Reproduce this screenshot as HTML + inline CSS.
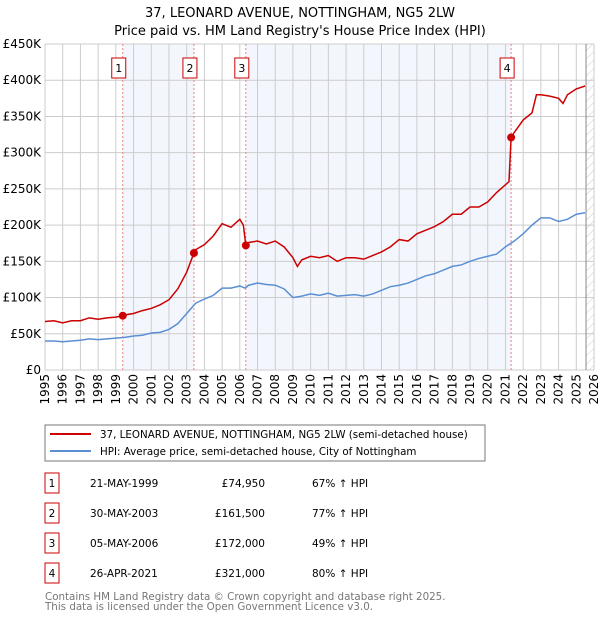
<!DOCTYPE html>
<html><head><meta charset="utf-8"><style>
body{margin:0;background:#fff;font-family:"DejaVu Sans","Liberation Sans",sans-serif;}
svg text{font-family:"DejaVu Sans","Liberation Sans",sans-serif;}
</style></head><body>
<svg id="c" width="600" height="620" xmlns="http://www.w3.org/2000/svg">
<defs><pattern id="hatch" width="6" height="6" patternUnits="userSpaceOnUse" patternTransform="rotate(45)"><line x1="0" y1="0" x2="0" y2="6" stroke="#ccc" stroke-width="1"/></pattern></defs>
<text x="300" y="17" text-anchor="middle" font-size="13">37, LEONARD AVENUE, NOTTINGHAM, NG5 2LW</text>
<text x="300" y="35" text-anchor="middle" font-size="13">Price paid vs. HM Land Registry's House Price Index (HPI)</text>
<g id="plot"></g>
<rect x="45" y="425" width="440" height="36" fill="#fff" stroke="#777"/>
<line x1="50" y1="434" x2="91" y2="434" stroke="#cc0000" stroke-width="2"/>
<text x="100" y="438" font-size="10.3">37, LEONARD AVENUE, NOTTINGHAM, NG5 2LW (semi-detached house)</text>
<line x1="50" y1="451" x2="91" y2="451" stroke="#5b8fd4" stroke-width="2"/>
<text x="100" y="455" font-size="10.3">HPI: Average price, semi-detached house, City of Nottingham</text>
<g id="table" font-size="10.5"></g>
<text x="45" y="600" font-size="10.3" fill="#777">Contains HM Land Registry data © Crown copyright and database right 2025.</text>
<text x="45" y="610" font-size="10.3" fill="#777">This data is licensed under the Open Government Licence v3.0.</text>
</svg>
<script>
const hpiX=[1995,1995.5,1996,1996.5,1997,1997.5,1998,1998.5,1999,1999.5,2000,2000.5,2001,2001.5,2002,2002.5,2003,2003.5,2004,2004.5,2005,2005.5,2006,2006.3,2006.5,2007,2007.5,2008,2008.5,2009,2009.5,2010,2010.5,2011,2011.5,2012,2012.5,2013,2013.5,2014,2014.5,2015,2015.5,2016,2016.5,2017,2017.5,2018,2018.5,2019,2019.5,2020,2020.5,2021,2021.5,2022,2022.5,2023,2023.5,2024,2024.5,2025,2025.5];
const hpiY=[40,40,39,40,41,43,42,43,44,45,47,48,51,52,56,64,78,92,98,103,113,113,116,113,117,120,118,117,112,100,102,105,103,106,102,103,104,102,105,110,115,117,120,125,130,133,138,143,145,150,154,157,160,170,178,188,200,210,210,205,208,215,217];
const priceX=[1995,1995.5,1996,1996.5,1997,1997.5,1998,1998.5,1999,1999.39,1999.5,2000,2000.5,2001,2001.5,2002,2002.5,2003,2003.41,2003.5,2004,2004.5,2005,2005.5,2006,2006.2,2006.34,2006.5,2007,2007.5,2008,2008.5,2009,2009.25,2009.5,2010,2010.5,2011,2011.5,2012,2012.5,2013,2013.5,2014,2014.5,2015,2015.5,2016,2016.5,2017,2017.5,2018,2018.5,2019,2019.5,2020,2020.5,2021.2,2021.32,2021.5,2022,2022.5,2022.75,2023,2023.5,2024,2024.25,2024.5,2025,2025.5];
const priceY=[67,68,65,68,68,72,70,72,73,74.95,76,78,82,85,90,97,112,135,161.5,166,173,185,202,197,208,200,172,176,178,174,178,170,155,143,152,157,155,158,150,155,155,153,158,163,170,180,178,188,193,198,205,215,215,225,225,232,245,260,321,328,345,355,380,380,378,375,368,380,388,392];
const saleX=[1999.39,2003.41,2006.34,2021.32];
const saleY=[74.95,161.5,172,321];
const saleLabels=["1","2","3","4"];
const saleDates=["21-MAY-1999","30-MAY-2003","05-MAY-2006","26-APR-2021"];
const salePrices=["£74,950","£161,500","£172,000","£321,000"];
const saleHpi=["67% ↑ HPI","77% ↑ HPI","49% ↑ HPI","80% ↑ HPI"];
const yTicks=[0,50,100,150,200,250,300,350,400,450];
const yTickLabels=["£0","£50K","£100K","£150K","£200K","£250K","£300K","£350K","£400K","£450K"];
const xTicks=[1995,1996,1997,1998,1999,2000,2001,2002,2003,2004,2005,2006,2007,2008,2009,2010,2011,2012,2013,2014,2015,2016,2017,2018,2019,2020,2021,2022,2023,2024,2025,2026];

const L=45,R=594,T=44,B=370,NS="http://www.w3.org/2000/svg";
const sx=v=>L+(v-1995)/(2026-1995)*(R-L);
const sy=v=>B-v/450*(B-T);
const g=document.getElementById('plot');
function mk(tag,at,parent){const e=document.createElementNS(NS,tag);for(const k in at)e.setAttribute(k,at[k]);(parent||g).appendChild(e);return e;}
for(let i=0;i<saleX.length;i+=2){const x1=sx(saleX[i]),x2=i+1<saleX.length?sx(saleX[i+1]):R;
 const r=mk('rect',{x:x1,y:T,width:x2-x1,height:B-T,fill:'#eef3fc',opacity:0.7});
 
 }
const hz=mk('rect',{x:sx(2025.55),y:T,width:R-sx(2025.55),height:B-T,fill:'url(#hatch)'});


yTicks.forEach((v,i)=>{const l=mk('line',{x1:L,x2:R,y1:sy(v),y2:sy(v),stroke:'#ccc'});
 
 
 const t=mk('text',{x:L-4,y:sy(v)+4,'text-anchor':'end','font-size':12});t.textContent=yTickLabels[i];
 
 });
xTicks.forEach(v=>{const l=mk('line',{x1:sx(v),x2:sx(v),y1:T,y2:B,stroke:'#ccc'});
 
 
 const t=mk('text',{x:0,y:0,'text-anchor':'end','font-size':12,transform:`translate(${sx(v)+4},${B+4}) rotate(-90)`});t.textContent=v;
 
 });
const vl=mk('line',{x1:sx(2025.55),x2:sx(2025.55),y1:T,y2:B,stroke:'#888'});


saleX.forEach((v,i)=>{const l=mk('line',{x1:sx(v),x2:sx(v),y1:T,y2:B,stroke:'#f08080','stroke-dasharray':'2,2'});
 
 
 const bx=sx(v)-4;
 const r=mk('rect',{x:bx-7,y:58,width:14,height:20,fill:'#fff',stroke:'#cc0000'});
 
 
 const t=mk('text',{x:bx,y:72,'text-anchor':'middle','font-size':11});t.textContent=saleLabels[i];
 
 });
const hp=mk('polyline',{points:hpiX.map((x,i)=>sx(x)+','+sy(hpiY[i])).join(' '),fill:'none',stroke:'#5b8fd4','stroke-width':1.5});


const pp=mk('polyline',{points:priceX.map((x,i)=>sx(x)+','+sy(priceY[i])).join(' '),fill:'none',stroke:'#cc0000','stroke-width':1.5});


saleX.forEach((v,i)=>{const c=mk('circle',{cx:sx(v),cy:sy(saleY[i]),r:4,fill:'#cc0000'});
 
 });
const tb=document.getElementById('table');
saleX.forEach((v,i)=>{const y=487+i*30;
 const r=mk('rect',{x:45,y:y-14,width:14,height:20,fill:'#fff',stroke:'#cc0000'},tb);
 
 
 const cells=[[52,saleLabels[i],'middle'],[90,saleDates[i],'start'],[265,salePrices[i],'end'],[312,saleHpi[i],'start']];
 cells.forEach(c=>{const t=mk('text',{x:c[0],y:y,'text-anchor':c[2]},tb);t.textContent=c[1];
  
  });});
</script>
</body></html>
